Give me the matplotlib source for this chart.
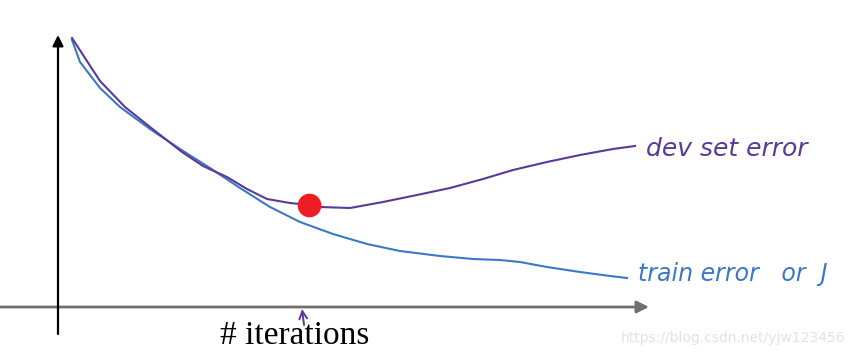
import matplotlib.pyplot as plt

# curves (x = iterations, y = error, screen-like units)
dev_x = [72, 85, 100, 125, 150, 182, 203, 227, 247, 267, 290, 309, 320, 350, 383, 417, 450, 483, 513, 547, 580, 613, 635]
dev_y = [38, 58, 81, 107, 127, 152, 166, 177, 189, 199, 203, 205, 207, 208, 202, 195, 188, 179, 170, 162, 155, 149, 146]

train_x = [72, 80, 100, 120, 150, 180, 210, 240, 270, 300, 333, 367, 400, 440, 473, 500, 520, 547, 580, 610, 627]
train_y = [40, 62, 88, 107, 129, 149, 168, 188, 207, 222, 234, 244, 251, 256, 259, 260, 262, 267, 272, 276, 278]

best_x = [309]
best_y = [205]

PURPLE = '#5a3a98'
BLUE = '#3b78c6'

fig = plt.figure(figsize=(8.54, 3.59), dpi=100)
ax = fig.add_axes([0, 0, 1, 1])
ax.set_xlim(0, 854)
ax.set_ylim(359, 0)
ax.axis('off')

# axes drawn by hand
ax.annotate('', xy=(649, 307), xytext=(0, 307),
            arrowprops=dict(arrowstyle='-|>', color='#707070', lw=2,
                            mutation_scale=18, shrinkA=0, shrinkB=0))
ax.annotate('', xy=(58, 35), xytext=(58, 334),
            arrowprops=dict(arrowstyle='-|>', color='black', lw=1.6,
                            mutation_scale=16, shrinkA=0, shrinkB=0))

ax.plot(train_x, train_y, color=BLUE, lw=1.5)
ax.plot(dev_x, dev_y, color=PURPLE, lw=1.5)
ax.plot(best_x, best_y, 'o', color='#ee1c25', ms=16, zorder=5)

ax.text(646, 149, 'dev set error', color=PURPLE, fontsize=18,
        style='italic', va='center', ha='left')
ax.text(638, 274, 'train error   or  J', color=BLUE, fontsize=17,
        style='italic', va='center', ha='left')

# little pointer under the x axis at the best iteration
ax.annotate('', xy=(302, 309), xytext=(304, 325),
            arrowprops=dict(arrowstyle='->', color=PURPLE, lw=1.4,
                            mutation_scale=14, shrinkA=0, shrinkB=0))
ax.text(295, 336, '# iterations', fontsize=24, family='Liberation Serif',
        ha='center', va='center')

ax.text(845, 338, 'https://blog.csdn.net/yjw123456', color='#e2e2e2',
        fontsize=10, ha='right', va='center')

fig.savefig('out.png')
